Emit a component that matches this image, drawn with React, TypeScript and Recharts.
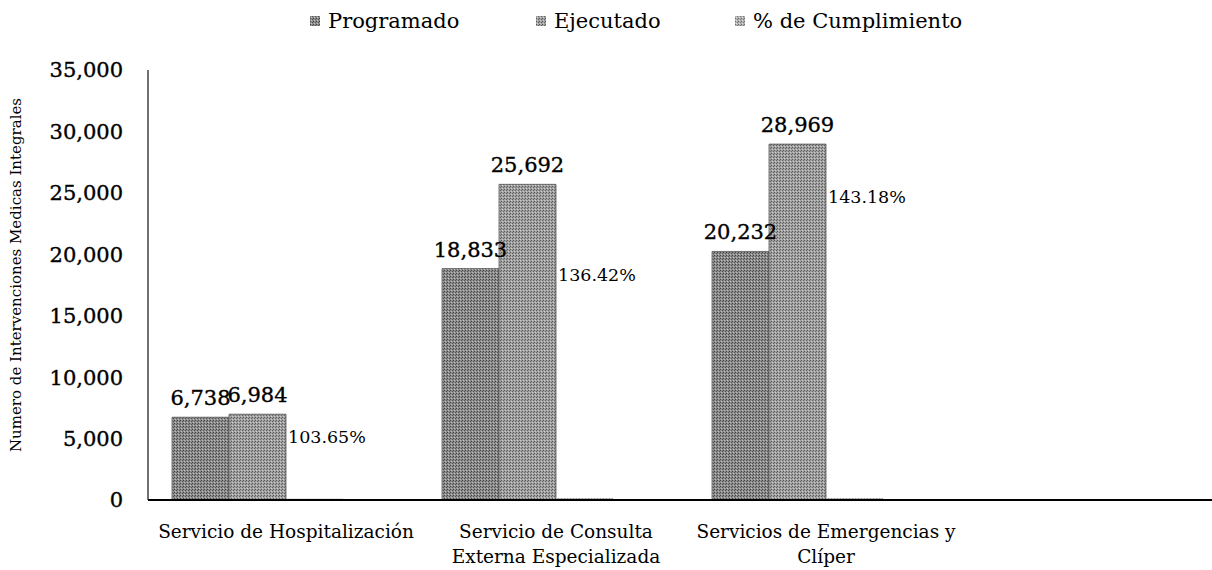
import React from 'react';
import { BarChart, Bar, XAxis, YAxis, Legend, LabelList } from 'recharts';

// Categories and series
const categories = [
  'Servicio de Hospitalización',
  'Servicio de Consulta\nExterna Especializada',
  'Servicios de Emergencias y\nClíper',
];
const programado = [6738, 18833, 20232];
const ejecutado = [6984, 25692, 28969];
const cumplimiento = [103.65, 136.42, 143.18];
const yTicks = [0, 5000, 10000, 15000, 20000, 25000, 30000, 35000];

// how far below the top of the Ejecutado bar each % label sits (px)
const pctLabelDrop = [23, 91, 53];

const data = categories.map((name, i) => ({
  name,
  programado: programado[i],
  ejecutado: ejecutado[i],
  cumplimiento: cumplimiento[i],
}));

const FONT = '"DejaVu Serif", "Liberation Serif", serif';

const fmt = (v: number) => v.toLocaleString('en-US');

const legendItems = [
  { label: 'Programado', fill: 'url(#dotsDark)', width: 226 },
  { label: 'Ejecutado', fill: 'url(#dotsLight)', width: 199 },
  { label: '% de Cumplimiento', fill: 'url(#dotsPale)', width: 260 },
];

const renderLegend = () => (
  <div style={{ display: 'flex', paddingLeft: 310, fontFamily: FONT, fontSize: 21, color: '#000' }}>
    {legendItems.map((it) => (
      <div key={it.label} style={{ display: 'flex', alignItems: 'center', width: it.width }}>
        <svg width={18} height={12}>
          <rect x={0} y={1} width={10} height={10} fill={it.fill} />
        </svg>
        <span>{it.label}</span>
      </div>
    ))}
  </div>
);

const CategoryTick = ({ x, y, payload }: any) => {
  const lines = String(payload.value).split('\n');
  return (
    <g>
      {lines.map((line, i) => (
        <text
          key={i}
          x={x}
          y={y + 36 + i * 25}
          textAnchor="middle"
          fontFamily={FONT}
          fontSize={18.5}
          fill="#000"
        >
          {line}
        </text>
      ))}
    </g>
  );
};

const PctLabel = ({ x, y, width, value, index }: any) => (
  <text
    x={x + width + 2}
    y={y + pctLabelDrop[index]}
    dy="0.35em"
    fontFamily={FONT}
    fontSize={17.5}
    fill="#000"
  >
    {Number(value).toFixed(2)}%
  </text>
);

const numStyle = { fontFamily: FONT, fontSize: 21, fill: '#000', stroke: '#000', strokeWidth: 0.35 };

export default function App() {
  return (
    <div style={{ position: 'absolute', left: 0, top: 0, width: 1212, height: 570, background: '#fff', overflow: 'hidden' }}>
      <style>{'html, body { margin: 0; overflow: hidden; }'}</style>
      <BarChart
        width={1212}
        height={570}
        data={data}
        margin={{ top: 70, right: -20, left: 0, bottom: 0 }}
        barCategoryGap={21}
        barGap={0}
      >
        <defs>
          <pattern id="dotsDark" width={3} height={3} patternUnits="userSpaceOnUse">
            <rect width={3} height={3} fill="#8c8c8c" />
            <rect x={0} y={0} width={1} height={1} fill="#444" />
            <rect x={2} y={1} width={1} height={1} fill="#555" />
            <rect x={1} y={2} width={1} height={1} fill="#c0c0c0" />
          </pattern>
          <pattern id="dotsLight" width={3} height={3} patternUnits="userSpaceOnUse">
            <rect width={3} height={3} fill="#a0a0a0" />
            <rect x={0} y={0} width={1} height={1} fill="#5a5a5a" />
            <rect x={2} y={1} width={1} height={1} fill="#666" />
            <rect x={1} y={2} width={1} height={1} fill="#d0d0d0" />
          </pattern>
          <pattern id="dotsPale" width={3} height={3} patternUnits="userSpaceOnUse">
            <rect width={3} height={3} fill="#b0b0b0" />
            <rect x={0} y={0} width={1} height={1} fill="#707070" />
            <rect x={2} y={1} width={1} height={1} fill="#7a7a7a" />
            <rect x={1} y={2} width={1} height={1} fill="#dcdcdc" />
          </pattern>
        </defs>
        <Legend
          verticalAlign="middle"
          layout="horizontal"
          content={renderLegend}
          wrapperStyle={{ top: 9, left: 0, width: 1212 }}
        />
        <XAxis
          dataKey="name"
          interval={0}
          tickLine={false}
          tickSize={0}
          height={70}
          tick={<CategoryTick />}
          axisLine={{ stroke: '#000', strokeWidth: 2 }}
          padding={{ left: 3, right: 271 }}
        />
        <YAxis
          width={148}
          domain={[0, 35000]}
          ticks={yTicks}
          interval={0}
          tickLine={false}
          tickSize={0}
          tickMargin={25}
          tickFormatter={fmt}
          axisLine={{ stroke: '#111', strokeWidth: 1.2 }}
          tick={numStyle}
          label={{
            content: () => (
              <text
                x={16}
                y={275}
                transform="rotate(-90, 16, 275)"
                textAnchor="middle"
                dy="0.35em"
                fontFamily={FONT}
                fontSize={15}
                fill="#000"
              >
                Numero de Intervenciones Medicas Integrales
              </text>
            ),
          }}
        />
        <Bar dataKey="programado" name="Programado" fill="url(#dotsDark)" stroke="#555" strokeWidth={0.8} isAnimationActive={false}>
          <LabelList dataKey="programado" position="top" offset={12} formatter={fmt} style={numStyle} />
        </Bar>
        <Bar dataKey="ejecutado" name="Ejecutado" fill="url(#dotsLight)" stroke="#555" strokeWidth={0.8} isAnimationActive={false}>
          <LabelList dataKey="ejecutado" position="top" offset={12} formatter={fmt} style={numStyle} />
          <LabelList dataKey="cumplimiento" content={<PctLabel />} />
        </Bar>
        <Bar dataKey="cumplimiento" name="% de Cumplimiento" fill="url(#dotsPale)" isAnimationActive={false} />
        <Bar dataKey="blank" legendType="none" fill="none" isAnimationActive={false} />
      </BarChart>
    </div>
  );
}
